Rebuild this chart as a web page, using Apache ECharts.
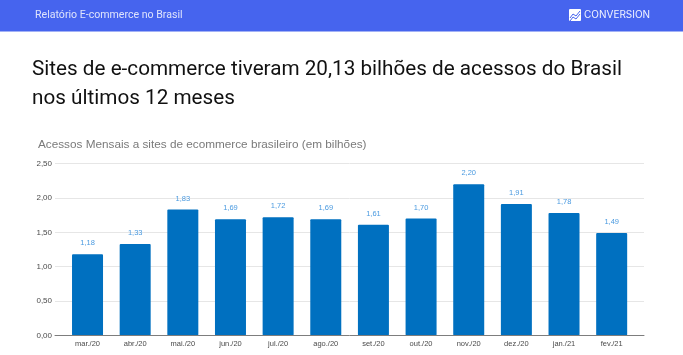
<!DOCTYPE html>
<html>
<head>
<meta charset="utf-8">
<title>Relatório E-commerce no Brasil</title>
<script src="https://cdn.jsdelivr.net/npm/echarts@6/dist/echarts.min.js"></script>
<style>
  html, body { margin: 0; padding: 0; background: #fff; }
  #chart { width: 683px; height: 355px; }
</style>
</head>
<body>
<div id="chart"></div>
<script>
const months = ['mar./20', 'abr./20', 'mai./20', 'jun./20', 'jul./20', 'ago./20', 'set./20', 'out./20', 'nov./20', 'dez./20', 'jan./21', 'fev./21'];
const acessos = [1.18, 1.33, 1.83, 1.69, 1.72, 1.69, 1.61, 1.70, 2.20, 1.91, 1.78, 1.49];
const headerText = 'Relatório E-commerce no Brasil';
const brandText = 'CONVERSION';
const titleLines = ['Sites de e-commerce tiveram 20,13 bilhões de acessos do Brasil', 'nos últimos 12 meses'];
const chartTitle = 'Acessos Mensais a sites de ecommerce brasileiro (em bilhões)';

const comma = v => v.toFixed(2).replace('.', ',');

let myChart = echarts.init(document.getElementById('chart'), null, { renderer: 'canvas' });

let option = {
  animation: false,
  backgroundColor: '#fff',
  // grid 0 holds gridlines and baseline, grid 1 is narrower and holds the bars
  grid: [
    { left: 55, right: 39, top: 163.5, height: 172, containLabel: false },
    { left: 63.7, right: 47.5, top: 163.5, height: 172, containLabel: false }
  ],
  xAxis: [{
    gridIndex: 0,
    type: 'value',
    min: 0,
    max: 1,
    axisLabel: { show: false },
    axisTick: { show: false },
    splitLine: { show: false },
    axisLine: { show: true, onZero: false, lineStyle: { color: '#7d7d7d', width: 1 } },
    z: 5
  }, {
    gridIndex: 1,
    type: 'category',
    data: months,
    axisTick: { show: false },
    axisLine: { show: false },
    axisLabel: {
      interval: 0,
      margin: 4,
      fontFamily: 'Liberation Sans',
      fontSize: 7.5,
      color: '#4a4a4a'
    }
  }],
  yAxis: [{
    gridIndex: 0,
    type: 'value',
    min: 0,
    max: 2.5,
    interval: 0.5,
    axisLine: { show: false },
    axisTick: { show: false },
    axisLabel: {
      margin: 3,
      fontFamily: 'Liberation Sans',
      fontSize: 8,
      color: '#4a4a4a',
      formatter: comma
    },
    splitLine: { lineStyle: { color: '#e6e6e6', width: 1 } }
  }, {
    gridIndex: 1,
    type: 'value',
    min: 0,
    max: 2.5,
    interval: 0.5,
    show: false
  }],
  series: [{
    name: 'Acessos',
    type: 'bar',
    xAxisIndex: 1,
    yAxisIndex: 1,
    data: acessos,
    barWidth: 31,
    itemStyle: { color: '#0070c0', borderRadius: 1 },
    label: {
      show: true,
      position: 'top',
      distance: 7,
      fontFamily: 'Liberation Sans',
      fontSize: 7.5,
      color: '#4a9ae0',
      formatter: p => comma(p.value)
    }
  }],
  graphic: [
    { type: 'rect', left: 0, top: 0, shape: { width: 683, height: 31.5 }, style: { fill: '#4664ee' } },
    { type: 'text', left: 35, top: 10, style: { text: headerText, fill: '#dfe4fc', font: '10.6px Roboto' } },
    { type: 'rect', left: 569, top: 9, shape: { width: 12, height: 12, r: 1 }, style: { fill: '#fff' } },
    { type: 'polyline', x: 570, y: 11, shape: { points: [[0, 7], [3, 3], [6, 5], [10, 0]] }, style: { fill: 'none', stroke: '#4664ee', lineWidth: 1 } },
    { type: 'polyline', x: 570, y: 14, shape: { points: [[0, 7], [3, 3], [6, 5], [10, 0]] }, style: { fill: 'none', stroke: '#4664ee', lineWidth: 1 } },
    { type: 'text', left: 584, top: 10, style: { text: brandText, fill: '#f2f4ff', font: '10px Inter' } },
    { type: 'text', left: 32, top: 59, style: { text: titleLines[0], fill: '#111', font: '20.7px Roboto' } },
    { type: 'text', left: 32, top: 88, style: { text: titleLines[1], fill: '#111', font: '20.7px Roboto' } },
    { type: 'text', left: 38, top: 139, style: { text: chartTitle, fill: '#7a7a7a', font: '11.75px "Liberation Sans"' } }
  ]
};

myChart.setOption(option, true);
</script>
</body>
</html>
